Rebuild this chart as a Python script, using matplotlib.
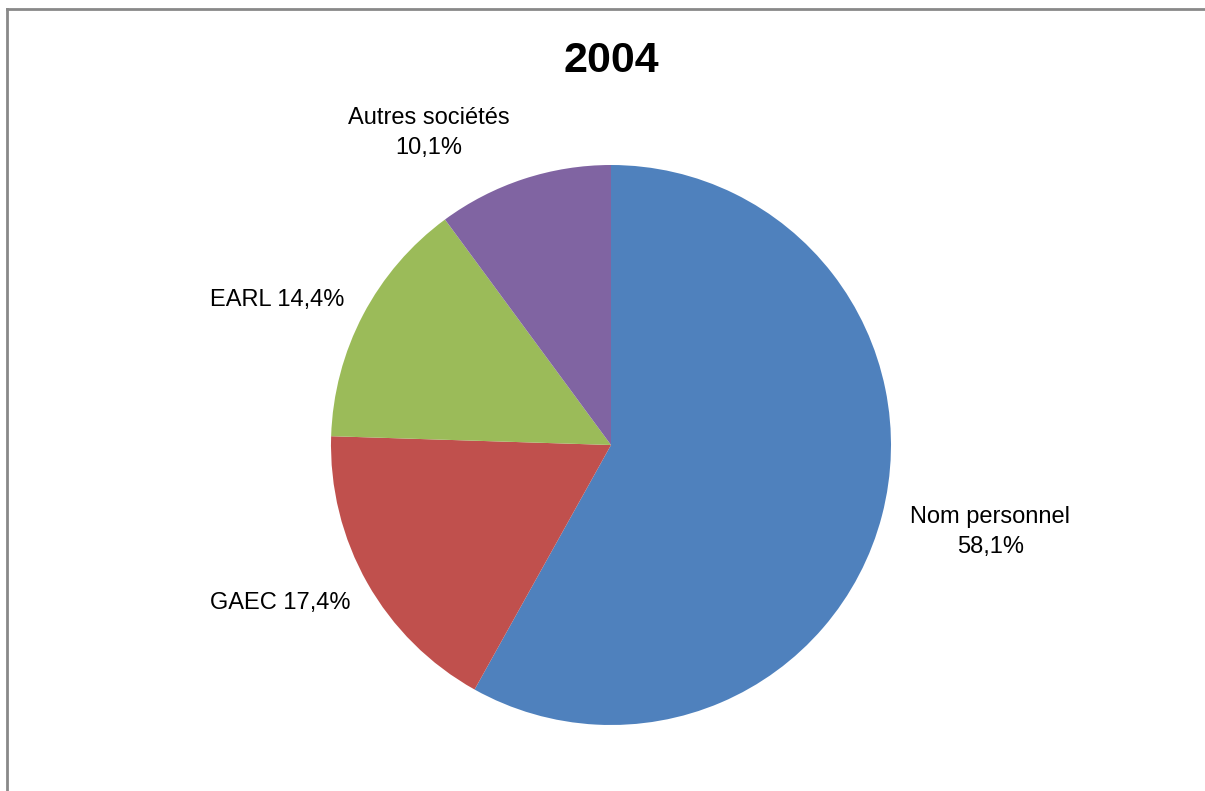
import matplotlib
matplotlib.use("Agg")
import matplotlib.pyplot as plt
from matplotlib.lines import Line2D

plt.rcParams['font.family'] = ['Liberation Sans', 'DejaVu Sans']

# data
categories = ["Nom personnel", "GAEC", "EARL", "Autres sociétés"]
shares = [58.1, 17.4, 14.4, 10.1]
colors = ["#4F81BD", "#C0504D", "#9BBB59", "#8064A2"]
title = "2004"

W, H = 1205, 791
fig = plt.figure(figsize=(W / 100, H / 100), dpi=100)

# pie centre (611, 445) px, radius 280 px
cx, cy, r = 611, 445, 280
ax = fig.add_axes([(cx - r) / W, (H - cy - r) / H, 2 * r / W, 2 * r / H])
ax.pie(shares, colors=colors, startangle=90, counterclock=False,
       radius=1, wedgeprops=dict(linewidth=0))
ax.set_xlim(-1, 1)
ax.set_ylim(-1, 1)
ax.set_aspect('equal')
ax.axis('off')

def fmt(v):
    return f"{v:.1f}".replace(".", ",") + "%"

# label positions in pie units (picked to match the reference)
label_pos = [(1.354, -0.31), (-1.182, -0.564), (-1.193, 0.518), (-0.65, 1.115)]
two_lines = [True, False, False, True]
for cat, v, (x, y), tl in zip(categories, shares, label_pos, two_lines):
    sep = "\n" if tl else " "
    ax.text(x, y, cat + sep + fmt(v), ha='center', va='center',
            fontsize=17, color='black', linespacing=1.5, clip_on=False)

fig.text(cx / W, 1 - 61 / H, title, ha='center', va='center',
         fontsize=31, fontweight='bold')

# chart area border (left and top visible)
fig.add_artist(Line2D([7 / W, 7 / W], [0, 1 - 9 / H], transform=fig.transFigure,
                      color='#898989', linewidth=2, solid_capstyle='projecting'))
fig.add_artist(Line2D([7 / W, 1], [1 - 9 / H, 1 - 9 / H], transform=fig.transFigure,
                      color='#898989', linewidth=2, solid_capstyle='projecting'))

fig.savefig("out.png", dpi=100, facecolor='white')
